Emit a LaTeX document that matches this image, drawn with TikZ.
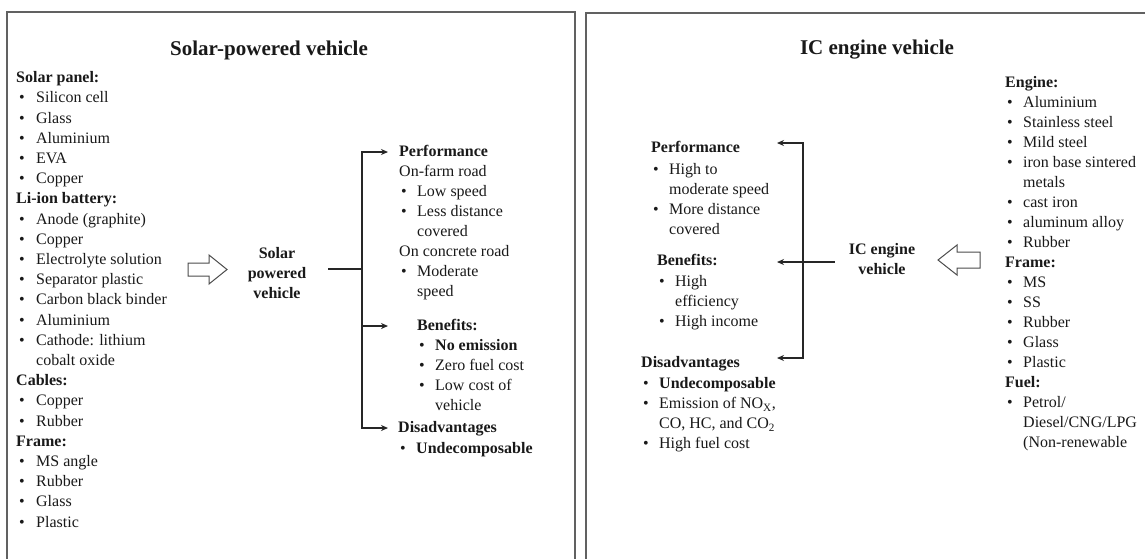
\documentclass[tikz,border=0pt]{standalone}
\usepackage{fontspec}
\setmainfont{Liberation Serif}
\usetikzlibrary{arrows.meta}
\newcommand{\bu}{\hspace*{2pt}\makebox[16pt][l]{\textbullet}}
\newcommand{\bul}{\hspace*{3pt}\makebox[17pt][l]{\textbullet}}
\newcommand{\cu}{\hspace*{18pt}}
\newcommand{\cul}{\hspace*{20pt}}
\tikzset{
  frame/.style={draw=black!62, line width=1.8pt},
  txt/.style={inner sep=0pt, anchor=north west, align=left, text=black!90},
  hdr/.style={inner sep=0pt, anchor=west, text height=11.5pt, text depth=2.5pt, font=\bfseries\fontsize{16}{20}\selectfont, text=black!90},
  ttl/.style={inner sep=0pt, font=\bfseries\fontsize{21}{25}\selectfont, text=black!90},
  cen/.style={inner sep=0pt, anchor=north, align=center, font=\bfseries\fontsize{16}{20}\selectfont, text=black!90},
  conn/.style={draw=black!85, line width=1.2pt},
  arr/.style={conn, -{Stealth[length=7pt,width=6pt]}},
  hollow/.style={draw=black!70, line width=1pt, fill=white, line join=miter},
}
\begin{document}
\begin{tikzpicture}[x=1pt,y=-1pt]
\clip (0,0) rectangle (1145,558);
\fill[white] (0,0) rectangle (1145,558);
% frames
\draw[frame] (7,12) rectangle (575,600);
\draw[frame] (586,13) rectangle (1200,600);

% ---------------- left box ----------------
\node[ttl] (tL) at (269,50) {Solar-powered vehicle};

\node[txt, font=\fontsize{16}{20.2}\selectfont] (listL) at (16,68.4) {\strut\textbf{Solar panel:}\\
\bul Silicon cell\\
\bul Glass\\
\bul Aluminium\\
\bul EVA\\
\bul Copper\\
\textbf{Li-ion battery:}\\
\bul Anode (graphite)\\
\bul Copper\\
\bul Electrolyte solution\\
\bul Separator plastic\\
\bul Carbon black binder\\
\bul Aluminium\\
\bul Cathode: lithium\\
\cul cobalt oxide\\
\textbf{Cables:}\\
\bul Copper\\
\bul Rubber\\
\textbf{Frame:}\\
\bul MS angle\\
\bul Rubber\\
\bul Glass\\
\bul Plastic};

\draw[hollow] (188,263) -- (209,263) -- (209,255) -- (227,269.5) -- (209,284) -- (209,276) -- (188,276) -- cycle;

\node[cen] (sv) at (277,244) {\strut Solar\\powered\\vehicle};

\node[hdr] (hPerfL) at (399,152) {Performance};
\node[txt, font=\fontsize{16}{20}\selectfont] (lPerfL) at (399,162.5) {\strut On-farm road\\
\bu Low speed\\
\bu Less distance\\
\cu covered\\
On concrete road\\
\bu Moderate\\
\cu speed};

\node[hdr] (hBenL) at (417,326) {Benefits:};
\node[txt, font=\fontsize{16}{20}\selectfont] (lBenL) at (417,336.5) {\strut\bu\textbf{No emission}\\
\bu Zero fuel cost\\
\bu Low cost of\\
\cu vehicle};

\node[hdr] (hDisL) at (398,428) {Disadvantages};
\node[txt, font=\fontsize{16}{20}\selectfont] (lDisL) at (398,439.5) {\strut\bu\textbf{Undecomposable}};

\coordinate (jL) at (362,269);
\coordinate (tipL) at (388,0);
\coordinate (svA) at ([xshift=22pt]sv.east);
\draw[conn] (svA |- jL) -- (jL);
\draw[arr] (jL) |- (hPerfL.west -| tipL);
\draw[arr] (jL) |- (hBenL.west -| tipL);
\draw[arr] (jL) |- (hDisL.west -| tipL);

% ---------------- right box ----------------
\node[ttl] (tR) at (877,50) {IC engine vehicle};

\node[hdr] (hPerfR) at (651,148) {Performance};
\node[txt, font=\fontsize{16}{19.8}\selectfont] (lPerfR) at (651,160.6) {\strut\bu High to\\
\cu moderate speed\\
\bu More distance\\
\cu covered};

\node[hdr] (hBenR) at (657,261) {Benefits:};
\node[txt, font=\fontsize{16}{20}\selectfont] (lBenR) at (657,272.5) {\strut\bu High\\
\cu efficiency\\
\bu High income};

\node[hdr] (hDisR) at (641,363) {Disadvantages};
\node[txt, font=\fontsize{16}{20}\selectfont] (lDisR) at (641,374.5) {\strut\bu\textbf{Undecomposable}\\
\bu Emission of NO\textsubscript{X},\\
\cu CO, HC, and CO\textsubscript{2}\\
\bu High fuel cost};

\node[cen] (ic) at (882,240.5) {\strut IC engine\\vehicle};

\draw[hollow] (980,252) -- (957,252) -- (957,245) -- (938,260) -- (957,275) -- (957,268) -- (980,268) -- cycle;

\node[txt, font=\fontsize{16}{20}\selectfont] (listR) at (1005,73.5) {\strut\textbf{Engine:}\\
\bu Aluminium\\
\bu Stainless steel\\
\bu Mild steel\\
\bu iron base sintered\\
\cu metals\\
\bu cast iron\\
\bu aluminum alloy\\
\bu Rubber\\
\textbf{Frame:}\\
\bu MS\\
\bu SS\\
\bu Rubber\\
\bu Glass\\
\bu Plastic\\
\textbf{Fuel:}\\
\bu Petrol/\\
\cu Diesel/CNG/LPG\\
\cu (Non-renewable};

\coordinate (jR) at (803,262);
\coordinate (tipR) at (777,0);
\coordinate (tPerfR) at (777,143);
\coordinate (tDisR) at (777,358);
\coordinate (icA) at ([xshift=-14pt]ic.west);
\draw[arr] (jR) |- (tPerfR);
\draw[arr] (jR) |- (tDisR);
\draw[arr] (icA |- jR) -- (jR -| tipR);
\end{tikzpicture}
\end{document}
